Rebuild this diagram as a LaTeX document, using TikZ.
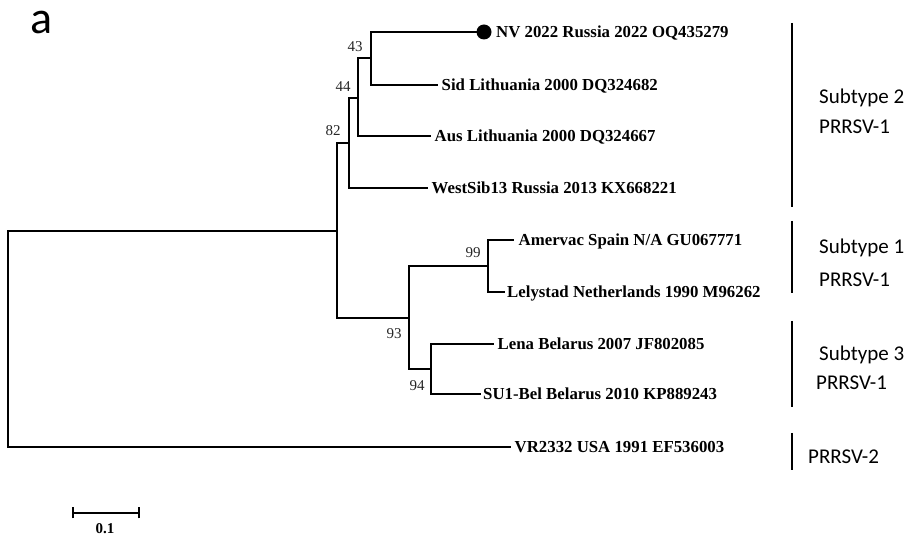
\documentclass[tikz,border=0pt]{standalone}
\usepackage{fontspec}
\setmainfont{Liberation Serif}
\newfontfamily\calfont{Carlito}
\begin{document}
\begin{tikzpicture}[x=1pt,y=-1pt,
  branch/.style={line width=2.1pt,line cap=rect},
  leaf/.style={anchor=west,inner xsep=4.5pt,inner ysep=0pt,text height=11pt,text depth=0pt,font=\fontsize{16.8}{18}\selectfont\bfseries},
  boot/.style={inner sep=0pt,font=\fontsize{15}{17}\selectfont,text=black!85},
  cladebar/.style={line width=2.6pt},
  cladetext/.style={anchor=west,inner sep=0pt,text height=13pt,text depth=0pt,font=\calfont\fontsize{21}{24}\selectfont},
  inner/.style={inner sep=0pt,minimum size=0pt}]
\useasboundingbox (0,0) rectangle (906,537);

% panel letter
\node[anchor=base west,inner sep=0pt,font=\calfont\fontsize{46}{50}\selectfont] (panel) at (30,34) {a};

% internal nodes
\coordinate (root) at (8,339);
\coordinate (nA) at (337,231);
\coordinate (n82) at (349,143);
\coordinate (n44) at (358,98);
\coordinate (n43) at (371,58);
\coordinate (n93) at (409,318);
\coordinate (n99) at (488,266);
\coordinate (n94) at (431,369);

% leaves
\node[circle,fill=black,inner sep=0pt,minimum size=15pt] (dot) at (484,32) {};
\node[leaf,inner xsep=0pt] (nv) at (496,32) {NV 2022 Russia 2022 OQ435279};
\node[leaf] (sid) at (437,85) {Sid Lithuania 2000 DQ324682};
\node[leaf] (aus) at (430,136) {Aus Lithuania 2000 DQ324667};
\node[leaf] (wsib) at (427,188) {WestSib13 Russia 2013 KX668221};
\node[leaf,inner xsep=5.5pt] (amer) at (513,240) {Amervac Spain N/A GU067771};
\node[leaf,inner xsep=3pt] (lely) at (504,292) {Lelystad Netherlands 1990 M96262};
\node[leaf] (lena) at (493,344) {Lena Belarus 2007 JF802085};
\node[leaf,inner xsep=3pt] (su1) at (480,394) {SU1-Bel Belarus 2010 KP889243};
\node[leaf] (vr) at (510,447) {VR2332 USA 1991 EF536003};

% branches
\draw[branch] (root) |- (nA);
\draw[branch] (root) |- (vr.west);
\draw[branch] (nA) |- (n82);
\draw[branch] (nA) |- (n93);
\draw[branch] (n82) |- (n44);
\draw[branch] (n82) |- (wsib.west);
\draw[branch] (n44) |- (n43);
\draw[branch] (n44) |- (aus.west);
\draw[branch] (n43) |- (dot.west);
\draw[branch] (n43) |- (sid.west);
\draw[branch] (n93) |- (n99);
\draw[branch] (n93) |- (n94);
\draw[branch] (n99) |- (amer.west);
\draw[branch] (n99) |- (lely.west);
\draw[branch] (n94) |- (lena.west);
\draw[branch] (n94) |- (su1.west);

% bootstrap values
\node[boot] (b43) at (355,47) {43};
\node[boot] (b44) at (343,87) {44};
\node[boot] (b82) at (333,131) {82};
\node[boot] (b99) at (473,253) {99};
\node[boot] (b93) at (394,334) {93};
\node[boot] (b94) at (417,386) {94};

% clade bars
\coordinate (c2a) at (792,23); \coordinate (c2b) at (792,207);
\coordinate (c1a) at (792,221); \coordinate (c1b) at (792,293);
\coordinate (c3a) at (792,321); \coordinate (c3b) at (792,407);
\coordinate (c4a) at (792,433); \coordinate (c4b) at (792,470);
\draw[cladebar] (c2a) -- (c2b);
\draw[cladebar] (c1a) -- (c1b);
\draw[cladebar] (c3a) -- (c3b);
\draw[cladebar] (c4a) -- (c4b);
\node[cladetext] (s2) at (819,97) {Subtype 2};
\node[cladetext] (s2b) at (819,127) {PRRSV-1};
\node[cladetext] (s1) at (819,247) {Subtype 1};
\node[cladetext] (s1b) at (819,280) {PRRSV-1};
\node[cladetext] (s3) at (819,354) {Subtype 3};
\node[cladetext] (s3b) at (816,383) {PRRSV-1};
\node[cladetext] (p2) at (808,457) {PRRSV-2};

% scale bar
\coordinate (sbl) at (73,513);
\coordinate (sbr) at (139,513);
\draw[line width=2.1pt] (sbl) -- (sbr);
\draw[line width=2.1pt] ([yshift=-5.5pt]sbl) -- ([yshift=5.5pt]sbl);
\draw[line width=2.1pt] ([yshift=-5.5pt]sbr) -- ([yshift=5.5pt]sbr);
\node[inner sep=0pt,font=\fontsize{15}{17}\selectfont\bfseries] (sbt) at (105,529) {0.1};
\end{tikzpicture}
\end{document}
